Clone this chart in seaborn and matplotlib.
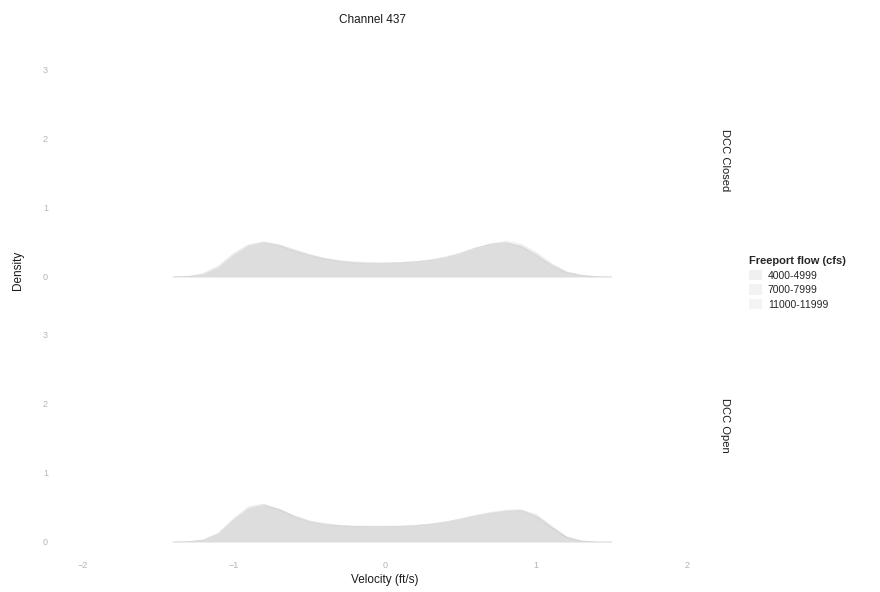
import numpy as np
import pandas as pd
import seaborn as sns
import matplotlib.pyplot as plt
from matplotlib.patches import Patch

# velocity grid (ft/s)
velocity = [-1.4, -1.3, -1.2, -1.1, -1.0, -0.9, -0.8, -0.7, -0.6, -0.5,
            -0.4, -0.3, -0.2, -0.1, 0.0, 0.1, 0.2, 0.3, 0.4, 0.5,
            0.6, 0.7, 0.8, 0.9, 1.0, 1.1, 1.2, 1.3, 1.4, 1.5]

flow_groups = ["4000-4999", "7000-7999", "11000-11999"]
panels = ["DCC Closed", "DCC Open"]

# DCC Closed densities
closed_4000 = [0, 0.005, 0.03, 0.12, 0.30, 0.44, 0.50, 0.47, 0.40, 0.33,
               0.27, 0.23, 0.21, 0.20, 0.20, 0.21, 0.22, 0.24, 0.28, 0.34,
               0.42, 0.48, 0.50, 0.45, 0.33, 0.18, 0.07, 0.02, 0.003, 0]
closed_7000 = [0, 0.005, 0.04, 0.15, 0.33, 0.47, 0.51, 0.46, 0.38, 0.31,
               0.26, 0.22, 0.20, 0.19, 0.19, 0.20, 0.22, 0.25, 0.29, 0.35,
               0.42, 0.47, 0.49, 0.44, 0.31, 0.16, 0.06, 0.02, 0.003, 0]
closed_11000 = [0, 0.01, 0.05, 0.16, 0.34, 0.46, 0.49, 0.45, 0.38, 0.32,
                0.27, 0.24, 0.22, 0.21, 0.21, 0.21, 0.22, 0.24, 0.27, 0.33,
                0.41, 0.48, 0.52, 0.48, 0.36, 0.20, 0.08, 0.03, 0.005, 0]

# DCC Open densities
open_4000 = [0, 0.0, 0.02, 0.11, 0.32, 0.49, 0.54, 0.48, 0.38, 0.30,
             0.26, 0.24, 0.23, 0.23, 0.23, 0.23, 0.24, 0.26, 0.29, 0.33,
             0.38, 0.42, 0.45, 0.46, 0.38, 0.22, 0.07, 0.01, 0, 0]
open_7000 = [0, 0.005, 0.03, 0.13, 0.34, 0.51, 0.55, 0.47, 0.36, 0.29,
             0.25, 0.23, 0.22, 0.22, 0.22, 0.22, 0.23, 0.25, 0.28, 0.32,
             0.37, 0.41, 0.44, 0.45, 0.37, 0.21, 0.07, 0.01, 0, 0]
open_11000 = [0, 0.005, 0.03, 0.12, 0.31, 0.47, 0.52, 0.47, 0.38, 0.31,
              0.27, 0.24, 0.23, 0.22, 0.22, 0.23, 0.24, 0.26, 0.29, 0.34,
              0.39, 0.43, 0.46, 0.47, 0.40, 0.24, 0.08, 0.02, 0, 0]

x_ticks = [-2, -1, 0, 1, 2]
y_ticks = [0, 1, 2, 3]

series = {
    "DCC Closed": [closed_4000, closed_7000, closed_11000],
    "DCC Open": [open_4000, open_7000, open_11000],
}
rows = []
for p in panels:
    for g, dens in zip(flow_groups, series[p]):
        for v, d in zip(velocity, dens):
            rows.append({"dcc": p, "flow": g, "velocity": v, "density": d})
df = pd.DataFrame(rows)

sns.set_theme(style="white")
plt.rcParams['font.family'] = ['Liberation Sans', 'DejaVu Sans']

palette = {"4000-4999": "#7a7a7a", "7000-7999": "#8c8c8c", "11000-11999": "#9e9e9e"}
fill_alpha = 0.11
tick_col = "#b5b5b5"

fig = plt.figure(figsize=(8.8, 5.92), dpi=100)
ax_top = fig.add_axes([55 / 880, 1 - 289 / 592, 655 / 880, 258 / 592])
ax_bot = fig.add_axes([55 / 880, 1 - 554 / 592, 655 / 880, 258 / 592])

for ax, p in zip([ax_top, ax_bot], panels):
    sub = df[df["dcc"] == p]
    sns.lineplot(data=sub, x="velocity", y="density", hue="flow",
                 hue_order=flow_groups, palette=palette, ax=ax,
                 legend=False, linewidth=0.5, alpha=0.18)
    for g in flow_groups:
        s = sub[sub["flow"] == g]
        ax.fill_between(s["velocity"], 0, s["density"],
                        color=palette[g], alpha=fill_alpha, linewidth=0)
    ax.set_xlim(-2.18, 2.15)
    ax.set_ylim(-0.174, 3.565)
    ax.set_xticks(x_ticks)
    ax.set_yticks(y_ticks)
    ax.set_xlabel("")
    ax.set_ylabel("")
    for sp in ax.spines.values():
        sp.set_visible(False)
    ax.tick_params(axis="both", length=0, labelsize=6.5, colors=tick_col, pad=5)
    ax.text(1.023, 0.5, p, transform=ax.transAxes, rotation=-90,
            ha="center", va="center", fontsize=8, color="#1a1a1a")

ax_top.tick_params(axis="x", labelbottom=False)

fig.text(372 / 880, 1 - 20 / 592, "Channel 437", ha="center", va="center",
         fontsize=8.5, color="#1a1a1a")
fig.text(18 / 880, 1 - 270 / 592, "Density", ha="center", va="center",
         rotation=90, fontsize=8.5, color="#1a1a1a")
fig.text(385 / 880, 1 - 580 / 592, "Velocity (ft/s)", ha="center", va="center",
         fontsize=8.5, color="#1a1a1a")

handles = [Patch(facecolor=palette[g], alpha=fill_alpha, edgecolor="none") for g in flow_groups]
leg = fig.legend(handles, flow_groups, title="Freeport flow (cfs)",
                 loc="upper left", bbox_to_anchor=(745 / 880, 1 - 252 / 592),
                 frameon=False, fontsize=7.5, title_fontsize=8,
                 handlelength=1.2, handleheight=1.2, handletextpad=0.6,
                 labelspacing=0.35, borderaxespad=0, alignment="left")
leg.get_title().set_fontweight("bold")

fig.savefig("out.png", dpi=100)
